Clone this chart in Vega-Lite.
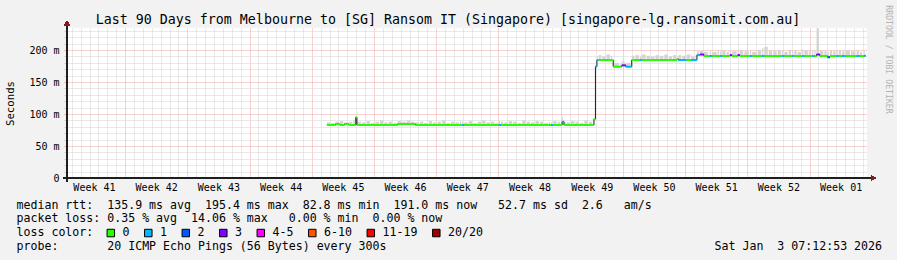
{
  "$schema": "https://vega.github.io/schema/vega-lite/v6.json",
  "width": 800,
  "height": 150,
  "autosize": {"type": "none"},
  "padding": {"left": 67, "top": 28, "right": 30, "bottom": 82},
  "config": {
    "background": "#f2f2f2",
    "view": {"fill": "white", "stroke": null},
    "font": "DejaVu Sans Mono"
  },
  "title": {
    "text": "Last 90 Days from Melbourne to [SG] Ransom IT (Singapore) [singapore-lg.ransomit.com.au]",
    "font": "DejaVu Sans Mono",
    "fontSize": 13.3,
    "fontWeight": "normal",
    "color": "#000000",
    "anchor": "middle",
    "frame": "group",
    "dx": -19,
    "offset": -32.5,
    "baseline": "alphabetic"
  },
  "data": {
    "format": {"parse": {"t": "date"}},
    "values": [
      {"t":"2025-11-03T17:00Z","m":82.8,"h":87,"l":"0"},
      {"t":"2025-11-04T04:00Z","m":82.8,"h":86,"l":"0"},
      {"t":"2025-11-04T16:00Z","m":84.4,"h":88,"l":"0"},
      {"t":"2025-11-05T04:00Z","m":82.8,"h":89,"l":"0"},
      {"t":"2025-11-05T16:00Z","m":84.4,"h":87,"l":"0"},
      {"t":"2025-11-06T04:00Z","m":82.8,"h":88,"l":"0"},
      {"t":"2025-11-06T16:00Z","m":82.8,"h":90,"l":"0"},
      {"t":"2025-11-06T23:00Z","m":95,"h":96,"l":"0"},
      {"t":"2025-11-07T02:00Z","m":82.8,"h":88,"l":"0"},
      {"t":"2025-11-07T16:00Z","m":82.8,"h":87,"l":"0"},
      {"t":"2025-11-08T04:00Z","m":82.8,"h":89,"l":"0"},
      {"t":"2025-11-08T16:00Z","m":82.8,"h":86,"l":"0"},
      {"t":"2025-11-09T04:00Z","m":82.8,"h":88,"l":"0"},
      {"t":"2025-11-09T16:00Z","m":82.8,"h":90,"l":"0"},
      {"t":"2025-11-10T04:00Z","m":82.8,"h":87,"l":"0"},
      {"t":"2025-11-10T16:00Z","m":82.8,"h":88,"l":"0"},
      {"t":"2025-11-11T04:00Z","m":82.8,"h":86,"l":"0"},
      {"t":"2025-11-11T16:00Z","m":84.4,"h":89,"l":"0"},
      {"t":"2025-11-12T04:00Z","m":84.4,"h":88,"l":"0"},
      {"t":"2025-11-12T16:00Z","m":84.4,"h":90,"l":"0"},
      {"t":"2025-11-13T04:00Z","m":84.4,"h":88,"l":"0"},
      {"t":"2025-11-13T16:00Z","m":82.8,"h":87,"l":"0"},
      {"t":"2025-11-14T04:00Z","m":82.8,"h":88,"l":"0"},
      {"t":"2025-11-14T16:00Z","m":82.8,"h":86,"l":"0"},
      {"t":"2025-11-15T04:00Z","m":82.8,"h":89,"l":"0"},
      {"t":"2025-11-15T16:00Z","m":82.8,"h":87,"l":"0"},
      {"t":"2025-11-16T04:00Z","m":82.8,"h":88,"l":"0"},
      {"t":"2025-11-16T16:00Z","m":82.8,"h":90,"l":"0"},
      {"t":"2025-11-17T04:00Z","m":82.8,"h":86,"l":"0"},
      {"t":"2025-11-17T16:00Z","m":82.8,"h":88,"l":"0"},
      {"t":"2025-11-18T04:00Z","m":82.8,"h":87,"l":"0"},
      {"t":"2025-11-18T16:00Z","m":82.8,"h":89,"l":"0"},
      {"t":"2025-11-18T22:00Z","m":82.8,"h":88,"l":"1"},
      {"t":"2025-11-19T04:00Z","m":82.8,"h":87,"l":"0"},
      {"t":"2025-11-19T16:00Z","m":82.8,"h":89,"l":"0"},
      {"t":"2025-11-20T04:00Z","m":82.8,"h":86,"l":"0"},
      {"t":"2025-11-20T16:00Z","m":82.8,"h":88,"l":"0"},
      {"t":"2025-11-21T04:00Z","m":82.8,"h":90,"l":"0"},
      {"t":"2025-11-21T16:00Z","m":82.8,"h":87,"l":"0"},
      {"t":"2025-11-22T04:00Z","m":82.8,"h":88,"l":"0"},
      {"t":"2025-11-22T16:00Z","m":82.8,"h":86,"l":"0"},
      {"t":"2025-11-23T01:00Z","m":82.8,"h":89,"l":"1"},
      {"t":"2025-11-23T07:00Z","m":82.8,"h":88,"l":"0"},
      {"t":"2025-11-23T16:00Z","m":82.8,"h":87,"l":"0"},
      {"t":"2025-11-24T04:00Z","m":82.8,"h":89,"l":"0"},
      {"t":"2025-11-24T16:00Z","m":82.8,"h":88,"l":"0"},
      {"t":"2025-11-25T04:00Z","m":82.8,"h":86,"l":"0"},
      {"t":"2025-11-25T16:00Z","m":82.8,"h":90,"l":"0"},
      {"t":"2025-11-26T04:00Z","m":82.8,"h":88,"l":"0"},
      {"t":"2025-11-26T16:00Z","m":82.8,"h":87,"l":"0"},
      {"t":"2025-11-27T04:00Z","m":82.8,"h":89,"l":"0"},
      {"t":"2025-11-27T16:00Z","m":82.8,"h":88,"l":"0"},
      {"t":"2025-11-28T04:00Z","m":82.8,"h":86,"l":"0"},
      {"t":"2025-11-28T16:00Z","m":82.8,"h":88,"l":"0"},
      {"t":"2025-11-28T22:00Z","m":82.8,"h":87,"l":"1"},
      {"t":"2025-11-29T04:00Z","m":82.8,"h":89,"l":"0"},
      {"t":"2025-11-29T16:00Z","m":82.8,"h":88,"l":"0"},
      {"t":"2025-11-30T01:00Z","m":82.8,"h":90,"l":"0"},
      {"t":"2025-11-30T04:00Z","m":88,"h":95,"l":"1"},
      {"t":"2025-11-30T09:00Z","m":82.8,"h":88,"l":"0"},
      {"t":"2025-11-30T16:00Z","m":82.8,"h":87,"l":"0"},
      {"t":"2025-12-01T04:00Z","m":82.8,"h":89,"l":"0"},
      {"t":"2025-12-01T16:00Z","m":82.8,"h":88,"l":"0"},
      {"t":"2025-12-02T04:00Z","m":82.8,"h":86,"l":"0"},
      {"t":"2025-12-02T16:00Z","m":82.8,"h":90,"l":"0"},
      {"t":"2025-12-03T04:00Z","m":82.8,"h":88,"l":"0"},
      {"t":"2025-12-03T16:00Z","m":82.8,"h":89,"l":"0"},
      {"t":"2025-12-03T18:00Z","m":92,"h":93,"l":"0"},
      {"t":"2025-12-03T22:00Z","m":174,"h":178,"l":"1"},
      {"t":"2025-12-04T02:00Z","m":184.4,"h":190,"l":"1"},
      {"t":"2025-12-04T07:00Z","m":184.4,"h":192,"l":"0"},
      {"t":"2025-12-04T16:00Z","m":184.4,"h":190,"l":"0"},
      {"t":"2025-12-05T04:00Z","m":184.4,"h":193,"l":"0"},
      {"t":"2025-12-05T16:00Z","m":184.4,"h":191,"l":"0"},
      {"t":"2025-12-05T22:00Z","m":173.9,"h":180,"l":"0"},
      {"t":"2025-12-06T16:00Z","m":173.9,"h":179,"l":"0"},
      {"t":"2025-12-06T21:00Z","m":176,"h":182,"l":"3"},
      {"t":"2025-12-07T08:00Z","m":173.9,"h":180,"l":"1"},
      {"t":"2025-12-08T00:00Z","m":184.4,"h":191,"l":"0"},
      {"t":"2025-12-08T10:00Z","m":184.4,"h":192,"l":"0"},
      {"t":"2025-12-08T22:00Z","m":184.4,"h":190,"l":"1"},
      {"t":"2025-12-09T04:00Z","m":184.4,"h":193,"l":"0"},
      {"t":"2025-12-09T16:00Z","m":184.4,"h":191,"l":"0"},
      {"t":"2025-12-10T04:00Z","m":184.4,"h":190,"l":"0"},
      {"t":"2025-12-10T16:00Z","m":184.4,"h":192,"l":"0"},
      {"t":"2025-12-11T04:00Z","m":184.4,"h":191,"l":"0"},
      {"t":"2025-12-11T16:00Z","m":184.4,"h":193,"l":"0"},
      {"t":"2025-12-12T04:00Z","m":184.4,"h":190,"l":"0"},
      {"t":"2025-12-12T16:00Z","m":184.4,"h":192,"l":"0"},
      {"t":"2025-12-13T02:00Z","m":186,"h":191,"l":"0"},
      {"t":"2025-12-13T06:00Z","m":184.4,"h":192,"l":"1"},
      {"t":"2025-12-13T16:00Z","m":184.4,"h":191,"l":"1"},
      {"t":"2025-12-14T04:00Z","m":184.4,"h":193,"l":"0"},
      {"t":"2025-12-14T16:00Z","m":184.4,"h":190,"l":"1"},
      {"t":"2025-12-15T04:00Z","m":184.4,"h":192,"l":"1"},
      {"t":"2025-12-15T08:00Z","m":192.2,"h":198,"l":"1"},
      {"t":"2025-12-15T16:00Z","m":193,"h":199,"l":"3"},
      {"t":"2025-12-16T03:00Z","m":190.6,"h":197,"l":"0"},
      {"t":"2025-12-16T16:00Z","m":190.6,"h":199,"l":"0"},
      {"t":"2025-12-16T19:00Z","m":190.6,"h":198,"l":"1"},
      {"t":"2025-12-17T01:00Z","m":190.6,"h":197,"l":"0"},
      {"t":"2025-12-17T16:00Z","m":190.6,"h":200,"l":"0"},
      {"t":"2025-12-17T22:00Z","m":190.6,"h":198,"l":"1"},
      {"t":"2025-12-18T04:00Z","m":190.6,"h":199,"l":"0"},
      {"t":"2025-12-18T16:00Z","m":190.6,"h":197,"l":"0"},
      {"t":"2025-12-19T01:00Z","m":192,"h":200,"l":"3"},
      {"t":"2025-12-19T07:00Z","m":190.6,"h":198,"l":"0"},
      {"t":"2025-12-19T22:00Z","m":192,"h":199,"l":"3"},
      {"t":"2025-12-20T04:00Z","m":190.6,"h":200,"l":"0"},
      {"t":"2025-12-20T16:00Z","m":190.6,"h":198,"l":"0"},
      {"t":"2025-12-21T07:00Z","m":190.6,"h":199,"l":"1"},
      {"t":"2025-12-21T13:00Z","m":190.6,"h":197,"l":"0"},
      {"t":"2025-12-22T04:00Z","m":190.6,"h":200,"l":"0"},
      {"t":"2025-12-22T16:00Z","m":190.6,"h":203,"l":"1"},
      {"t":"2025-12-22T22:00Z","m":190.6,"h":205,"l":"0"},
      {"t":"2025-12-23T10:00Z","m":190.6,"h":199,"l":"0"},
      {"t":"2025-12-23T22:00Z","m":190.6,"h":198,"l":"0"},
      {"t":"2025-12-24T10:00Z","m":190.6,"h":200,"l":"0"},
      {"t":"2025-12-24T22:00Z","m":190.6,"h":199,"l":"1"},
      {"t":"2025-12-25T04:00Z","m":190.6,"h":197,"l":"0"},
      {"t":"2025-12-25T16:00Z","m":190.6,"h":200,"l":"0"},
      {"t":"2025-12-26T01:00Z","m":190.6,"h":198,"l":"1"},
      {"t":"2025-12-26T07:00Z","m":190.6,"h":199,"l":"0"},
      {"t":"2025-12-26T16:00Z","m":190.6,"h":197,"l":"0"},
      {"t":"2025-12-27T04:00Z","m":190.6,"h":201,"l":"1"},
      {"t":"2025-12-27T10:00Z","m":190.6,"h":200,"l":"0"},
      {"t":"2025-12-27T22:00Z","m":190.6,"h":198,"l":"0"},
      {"t":"2025-12-28T07:00Z","m":190.6,"h":199,"l":"1"},
      {"t":"2025-12-28T13:00Z","m":190.6,"h":200,"l":"0"},
      {"t":"2025-12-28T19:00Z","m":193,"h":234,"l":"3"},
      {"t":"2025-12-29T04:00Z","m":190.6,"h":199,"l":"0"},
      {"t":"2025-12-29T16:00Z","m":190.6,"h":198,"l":"0"},
      {"t":"2025-12-30T01:00Z","m":188.6,"h":197,"l":"2"},
      {"t":"2025-12-30T07:00Z","m":190.6,"h":199,"l":"0"},
      {"t":"2025-12-30T16:00Z","m":190.6,"h":198,"l":"0"},
      {"t":"2025-12-31T01:00Z","m":190.6,"h":200,"l":"1"},
      {"t":"2025-12-31T07:00Z","m":190.6,"h":199,"l":"0"},
      {"t":"2025-12-31T16:00Z","m":190.6,"h":198,"l":"1"},
      {"t":"2026-01-01T01:00Z","m":190.6,"h":200,"l":"0"},
      {"t":"2026-01-01T16:00Z","m":190.6,"h":198,"l":"0"},
      {"t":"2026-01-02T07:00Z","m":190.6,"h":199,"l":"1"},
      {"t":"2026-01-02T16:00Z","m":190.6,"h":197,"l":"0"},
      {"t":"2026-01-03T01:00Z","m":190.6,"h":200,"l":"0"},
      {"t":"2026-01-03T04:00Z","m":191.0,"h":199,"l":"1"},
      {"t":"2026-01-03T08:30Z","m":191.0,"h":199,"l":"1"}
    ]
  },
  "transform": [
    {"window": [{"op": "lead", "field": "t", "as": "t2"}], "sort": [{"field": "t", "order": "ascending"}]}
  ],
  "resolve": {"axis": {"y": "independent"}},
  "layer": [
    {
      "transform": [{"filter": "datum.t2 != null"}],
      "mark": {"type": "rect", "color": "#d4d4d4", "x2Offset": -1},
      "encoding": {
        "x": {
          "field": "t", "type": "temporal",
          "scale": {"type": "utc", "domain": [
            {"year": 2025, "month": 10, "date": 5, "hours": 11, "minutes": 13, "utc": true},
            {"year": 2026, "month": 1, "date": 3, "hours": 11, "minutes": 13, "utc": true}
          ]},
          "axis": {
            "tickCount": {"interval": "day", "step": 1},
            "labelExpr": "utcFormat(datum.value, '%w') == '3' ? 'Week ' + utcFormat(datum.value, '%V') : ''",
            "labelOffset": 4.44,
            "labelOverlap": false,
            "labelBound": false,
            "labelFlush": false,
            "labelFont": "DejaVu Sans Mono",
            "labelFontSize": 10,
            "labelColor": "#000000",
            "labelPadding": 4,
            "ticks": false,
            "domain": false,
            "grid": true,
            "gridDash": [1, 1],
            "gridColor": {"condition": {"test": "utcFormat(datum.value, '%w') == '0'", "value": "#f0a4a4"}, "value": "#d2d2d2"},
            "title": [
              "median rtt:\u00a0\u00a0135.9 ms avg\u00a0\u00a0195.4 ms max\u00a0\u00a082.8 ms min\u00a0\u00a0191.0 ms now\u00a0\u00a0\u00a052.7 ms sd\u00a0\u00a02.6\u00a0\u00a0\u00a0am/s",
              "packet loss: 0.35 % avg\u00a0\u00a014.06 % max\u00a0\u00a0\u00a00.00 % min\u00a0\u00a00.00 % now",
              "loss color:",
              "probe:\u00a0\u00a0\u00a0\u00a0\u00a0\u00a0\u00a020 ICMP Echo Pings (56 Bytes) every 300s\u00a0\u00a0\u00a0\u00a0\u00a0\u00a0\u00a0\u00a0\u00a0\u00a0\u00a0\u00a0\u00a0\u00a0\u00a0\u00a0\u00a0\u00a0\u00a0\u00a0\u00a0\u00a0\u00a0\u00a0\u00a0\u00a0\u00a0\u00a0\u00a0\u00a0\u00a0\u00a0\u00a0\u00a0\u00a0\u00a0\u00a0\u00a0\u00a0\u00a0\u00a0\u00a0\u00a0\u00a0\u00a0\u00a0\u00a0Sat Jan\u00a0\u00a03 07:12:53 2026"
            ],
            "titleFont": "DejaVu Sans Mono",
            "titleFontSize": 11.6,
            "titleFontWeight": "normal",
            "titleColor": "#000000",
            "titleAlign": "left",
            "titleAnchor": "start",
            "titleBaseline": "alphabetic",
            "titleLineHeight": 13.7,
            "titleX": -51,
            "titleY": 30
          }
        },
        "x2": {"field": "t2"},
        "y": {
          "field": "m", "type": "quantitative",
          "scale": {"domain": [0, 234.4], "nice": false, "zero": false},
          "axis": {
            "values": [0,10,20,30,40,50,60,70,80,90,100,110,120,130,140,150,160,170,180,190,200,210,220,230],
            "labelExpr": "datum.value == 0 ? '0\u00a0\u00a0' : (datum.value % 50 == 0 ? datum.value + ' m' : '')",
            "labelFont": "DejaVu Sans Mono",
            "labelFontSize": 10,
            "labelColor": "#000000",
            "labelPadding": 5,
            "labelOverlap": false,
            "labelBound": false,
            "tickSize": 3,
            "tickColor": {"condition": {"test": "datum.value % 50 == 0", "value": "#f0a4a4"}, "value": "#d2d2d2"},
            "domain": false,
            "grid": true,
            "gridDash": [1, 1],
            "gridColor": {"condition": {"test": "datum.value % 50 == 0", "value": "#f0a4a4"}, "value": "#d2d2d2"},
            "title": "Seconds",
            "titleFont": "DejaVu Sans Mono",
            "titleFontSize": 10.7,
            "titleFontWeight": "normal",
            "titleColor": "#000000",
            "titleAngle": -90,
            "titleAlign": "center",
            "titleBaseline": "middle",
            "titleX": -57,
            "titleY": 75
          }
        },
        "y2": {"field": "h"}
      }
    },
    {
      "mark": {"type": "line", "interpolate": "step-after", "color": "#1a1a1a", "strokeWidth": 1},
      "encoding": {
        "x": {"field": "t", "type": "temporal"},
        "y": {"field": "m", "type": "quantitative", "axis": null}
      }
    },
    {
      "transform": [{"filter": "datum.t2 != null"}],
      "mark": {"type": "rect", "yOffset": -1, "y2Offset": 1},
      "encoding": {
        "x": {"field": "t", "type": "temporal"},
        "x2": {"field": "t2"},
        "y": {"field": "m", "type": "quantitative", "axis": null},
        "y2": {"field": "m"},
        "color": {
          "field": "l", "type": "nominal",
          "scale": {
            "domain": ["0","1","2","3","4-5","6-10","11-19","20/20"],
            "range": ["#26ff00","#00b8ff","#0059ff","#7e00ff","#ff00ff","#ff5500","#ff0000","#a10000"]
          },
          "legend": {
            "orient": "none",
            "legendX": 38,
            "legendY": 199,
            "direction": "horizontal",
            "padding": 0,
            "title": null,
            "labelFont": "DejaVu Sans Mono",
            "labelFontSize": 11.6,
            "labelColor": "#000000",
            "labelOffset": 6,
            "labelLimit": 0,
            "symbolType": "square",
            "symbolSize": 56,
            "symbolStrokeColor": "#000000",
            "symbolStrokeWidth": 1,
            "symbolOpacity": 1,
            "columnPadding": 12.5
          }
        }
      }
    },
    {
      "mark": {"type": "rule", "color": "#1f1f1f", "strokeWidth": 1},
      "encoding": {
        "x": {"datum": {"year": 2025, "month": 10, "date": 5, "hours": 11, "minutes": 13, "utc": true}, "type": "temporal"},
        "y": {"datum": -6, "type": "quantitative", "axis": null},
        "y2": {"datum": 240}
      }
    },
    {
      "mark": {"type": "rule", "color": "#1f1f1f", "strokeWidth": 1},
      "encoding": {
        "x": {"datum": {"year": 2025, "month": 10, "date": 5, "hours": 0, "minutes": 30, "utc": true}, "type": "temporal"},
        "x2": {"datum": {"year": 2026, "month": 1, "date": 4, "hours": 1, "minutes": 0, "utc": true}},
        "y": {"datum": 0, "type": "quantitative", "axis": null}
      }
    },
    {
      "mark": {"type": "point", "shape": "triangle-up", "filled": true, "color": "#801f1f", "size": 22, "opacity": 1},
      "encoding": {
        "x": {"datum": {"year": 2025, "month": 10, "date": 5, "hours": 11, "minutes": 13, "utc": true}, "type": "temporal"},
        "y": {"datum": 242, "type": "quantitative", "axis": null}
      }
    },
    {
      "mark": {"type": "point", "shape": "triangle-right", "filled": true, "color": "#801f1f", "size": 22, "opacity": 1},
      "encoding": {
        "x": {"datum": {"year": 2026, "month": 1, "date": 4, "hours": 5, "minutes": 0, "utc": true}, "type": "temporal"},
        "y": {"datum": 0, "type": "quantitative",
          "axis": {
            "orient": "right",
            "labels": false,
            "ticks": false,
            "domain": false,
            "grid": false,
            "title": "RRDTOOL / TOBI OETIKER",
            "titleFont": "DejaVu Sans Mono",
            "titleFontSize": 8.2,
            "titleFontWeight": "normal",
            "titleColor": "#b4b4b4",
            "titleAngle": 90,
            "titleAlign": "center",
            "titleBaseline": "middle",
            "titleX": 20,
            "titleY": 31
          }
        }
      }
    }
  ]
}
